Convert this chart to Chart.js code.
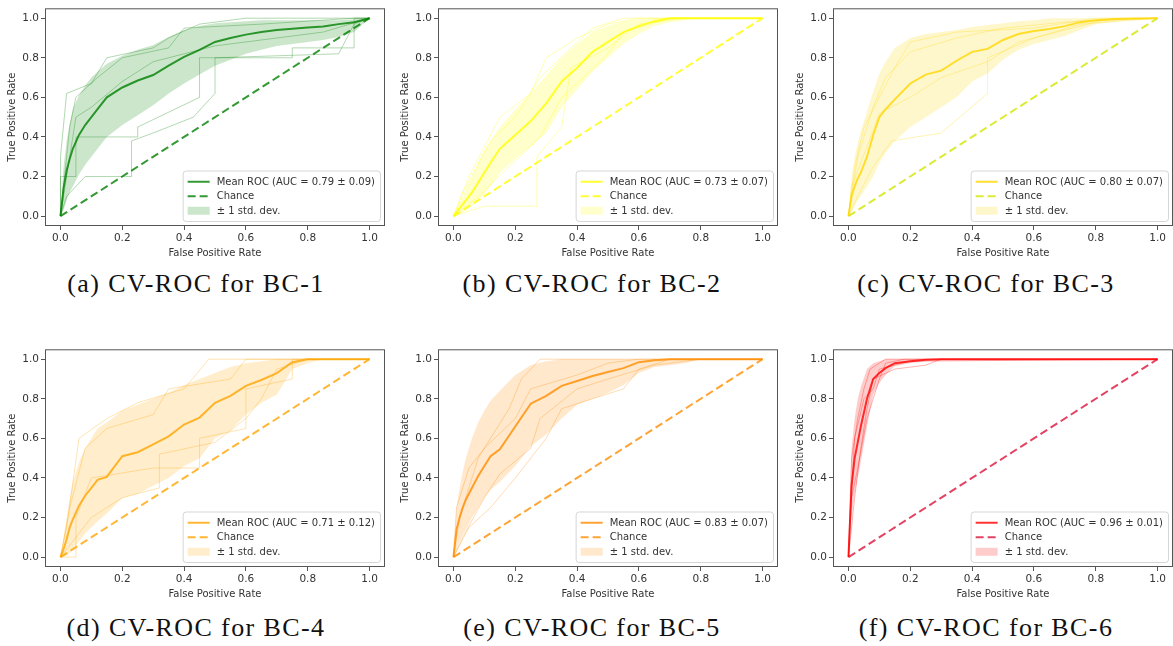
<!DOCTYPE html>
<html>
<head>
<meta charset="utf-8">
<script src="https://cdn.jsdelivr.net/npm/chart.js@4.4.1/dist/chart.umd.min.js"></script>
<style>
  body { margin: 0; width: 1173px; height: 646px; overflow: hidden; background: #fff; position: relative; }
  canvas { position: absolute; }
  .cap { position: absolute; width: 390px; text-align: center; font-family: "Liberation Serif", serif;
         font-size: 26px; line-height: 26px; letter-spacing: 1.4px; color: #111; white-space: nowrap; }
</style>
</head>
<body>
<script>
// shared axis values
const tickValues = [0, 0.2, 0.4, 0.6, 0.8, 1.0];
const tickLabels = ["0.0", "0.2", "0.4", "0.6", "0.8", "1.0"];
const fpr = [0, 0.01, 0.02, 0.03, 0.04, 0.06, 0.08, 0.1, 0.12, 0.15, 0.2, 0.25, 0.3, 0.35, 0.4, 0.45, 0.5, 0.55, 0.6, 0.65, 0.7, 0.75, 0.8, 0.85, 0.9, 0.95, 1.0];

const captions = ["(a) CV-ROC for BC-1", "(b) CV-ROC for BC-2", "(c) CV-ROC for BC-3",
                  "(d) CV-ROC for BC-4", "(e) CV-ROC for BC-5", "(f) CV-ROC for BC-6"];
const aucMean = [0.79, 0.73, 0.80, 0.71, 0.83, 0.96];
const aucStd  = [0.09, 0.07, 0.07, 0.12, 0.07, 0.01];

// mean TPR and +/- 1 std bounds at the fpr grid
const meanA  = [0, .14, .23, .29, .34, .41, .46, .50, .54, .60, .65, .685, .713, .76, .805, .84, .88, .90, .917, .93, .94, .947, .953, .958, .97, .98, 1];
const upperA = [0, .25, .38, .47, .54, .61, .66, .70, .73, .77, .81, .84, .865, .905, .94, .96, .975, .98, .985, .99, .99, .99, .99, .99, .99, .995, 1];
const lowerA = [0, .03, .08, .12, .15, .21, .26, .30, .34, .40, .46, .51, .56, .62, .67, .715, .76, .79, .82, .84, .86, .87, .88, .89, .905, .93, 1];

const meanB  = [0, .02, .04, .06, .08, .12, .17, .22, .27, .34, .41, .48, .57, .68, .75, .83, .88, .93, .96, .985, 1, 1, 1, 1, 1, 1, 1];
const upperB = [0, .04, .07, .10, .14, .20, .27, .33, .38, .45, .54, .62, .71, .80, .87, .93, .96, .985, .995, 1, 1, 1, 1, 1, 1, 1, 1];
const lowerB = [0, 0, .01, .02, .03, .05, .08, .11, .15, .22, .29, .35, .42, .55, .64, .73, .80, .87, .92, .96, .98, .99, 1, 1, 1, 1, 1];

const meanC  = [0, .10, .15, .19, .22, .30, .41, .50, .54, .59, .67, .715, .735, .785, .83, .845, .89, .92, .935, .945, .96, .98, .99, .995, .997, .998, 1];
const upperC = [0, .20, .30, .37, .43, .53, .63, .72, .78, .85, .90, .92, .93, .94, .955, .965, .975, .985, .99, 1, 1, 1, 1, 1, 1, 1, 1];
const lowerC = [0, .02, .05, .08, .10, .15, .20, .27, .32, .38, .45, .50, .55, .60, .68, .72, .79, .84, .87, .89, .91, .94, .97, .98, .99, .995, 1];

const meanD  = [0, .04, .09, .15, .19, .26, .31, .35, .39, .405, .51, .53, .57, .61, .67, .705, .78, .815, .865, .895, .93, .985, 1, 1, 1, 1, 1];
const upperD = [0, .10, .20, .30, .38, .48, .55, .60, .65, .68, .74, .77, .80, .83, .87, .90, .93, .96, .98, .99, 1, 1, 1, 1, 1, 1, 1];
const lowerD = [0, 0, .01, .02, .04, .08, .12, .15, .18, .22, .30, .32, .36, .40, .46, .50, .60, .64, .72, .78, .82, .95, .98, 1, 1, 1, 1];

const meanE  = [0, .14, .20, .25, .29, .35, .41, .46, .51, .545, .66, .775, .815, .865, .89, .915, .935, .955, .985, .995, 1, 1, 1, 1, 1, 1, 1];
const upperE = [0, .25, .35, .43, .50, .60, .68, .74, .79, .84, .92, .97, .99, 1, 1, 1, 1, 1, 1, 1, 1, 1, 1, 1, 1, 1, 1];
const lowerE = [0, .04, .08, .11, .14, .20, .25, .30, .34, .38, .46, .56, .62, .70, .77, .80, .83, .87, .93, .96, .97, .98, 1, 1, 1, 1, 1];

const meanF  = [0, .36, .50, .58, .66, .80, .90, .93, .955, .98, .99, .997, 1, 1, 1, 1, 1, 1, 1, 1, 1, 1, 1, 1, 1, 1, 1];
const upperF = [0, .55, .70, .80, .86, .95, .98, .99, 1, 1, 1, 1, 1, 1, 1, 1, 1, 1, 1, 1, 1, 1, 1, 1, 1, 1, 1];
const lowerF = [0, .20, .32, .40, .48, .66, .82, .88, .92, .965, .98, .99, .995, 1, 1, 1, 1, 1, 1, 1, 1, 1, 1, 1, 1, 1, 1];

// a few of the faint per-fold ROC curves, [fpr, tpr] corners
const foldsA = [
  [[0,0],[0,.2],[.05,.2],[.05,.4],[.25,.4],[.25,.45],[.45,.6],[.45,.8],[.75,.8],[.75,.85],[.95,.85],[.95,1],[1,1]],
  [[0,0],[.02,.1],[.08,.2],[.23,.2],[.23,.38],[.3,.42],[.43,.5],[.5,.62],[.5,.8],[.9,.82],[.95,.97],[1,1]],
  [[0,0],[0,.3],[.02,.62],[.1,.67],[.15,.8],[.3,.85],[.35,.9],[.45,.97],[.6,1],[1,1]],
  [[0,0],[.03,.45],[.05,.6],[.12,.7],[.2,.8],[.35,.85],[.4,.95],[.65,.97],[.95,1],[1,1]],
  [[0,0],[.05,.5],[.1,.55],[.2,.68],[.3,.78],[.5,.86],[.7,.9],[.85,.93],[1,1]]
];
const foldsB = [
  [[0,0],[.1,.05],[.27,.05],[.27,.3],[.35,.45],[.38,.75],[.5,.85],[.6,.97],[.75,1],[1,1]],
  [[0,0],[.05,.2],[.1,.35],[.15,.5],[.25,.62],[.3,.8],[.4,.9],[.5,.97],[.6,1],[1,1]],
  [[0,0],[.08,.1],[.18,.25],[.28,.4],[.35,.6],[.42,.7],[.5,.82],[.55,.93],[.7,1],[1,1]],
  [[0,0],[.03,.12],[.12,.38],[.2,.5],[.28,.7],[.38,.85],[.45,.95],[.55,1],[1,1]]
];
const foldsC = [
  [[0,0],[.02,.25],[.05,.45],[.1,.6],[.15,.75],[.2,.88],[.35,.93],[.6,.95],[.8,1],[1,1]],
  [[0,0],[.03,.1],[.08,.25],[.14,.38],[.3,.42],[.45,.62],[.45,.8],[.6,.9],[.75,.97],[1,1]],
  [[0,0],[.01,.15],[.06,.35],[.1,.52],[.2,.6],[.3,.7],[.45,.78],[.55,.88],[.85,1],[1,1]],
  [[0,0],[.03,.3],[.08,.55],[.12,.7],[.2,.83],[.35,.9],[.5,.95],[.7,.98],[1,1]]
];
const foldsD = [
  [[0,0],[.05,0],[.05,.2],[.1,.4],[.3,.45],[.45,.45],[.45,.6],[.6,.65],[.6,.85],[.75,.9],[.75,1],[1,1]],
  [[0,0],[.03,.25],[.08,.55],[.15,.65],[.3,.72],[.35,.85],[.55,.9],[.6,1],[1,1]],
  [[0,0],[.1,.2],[.2,.3],[.32,.35],[.32,.52],[.5,.58],[.6,.7],[.65,.8],[.7,.95],[.8,1],[1,1]],
  [[0,0],[.02,.15],[.06,.6],[.15,.7],[.25,.78],[.4,.85],[.48,1],[1,1]]
];
const foldsE = [
  [[0,0],[.02,.2],[.08,.5],[.12,.6],[.18,.75],[.22,.9],[.28,1],[1,1]],
  [[0,0],[.05,.15],[.12,.25],[.2,.4],[.3,.6],[.35,.75],[.45,.8],[.55,.85],[.6,.95],[.7,1],[1,1]],
  [[0,0],[.01,.25],[.05,.45],[.1,.55],[.2,.7],[.25,.85],[.4,.92],[.5,.98],[.6,1],[1,1]],
  [[0,0],[.03,.1],[.1,.3],[.15,.42],[.25,.55],[.28,.7],[.4,.85],[.5,.9],[.65,.97],[.8,1],[1,1]]
];
const foldsF = [
  [[0,0],[.01,.5],[.03,.7],[.05,.85],[.07,.95],[.12,1],[1,1]],
  [[0,0],[.02,.3],[.04,.55],[.06,.75],[.08,.9],[.15,.95],[.25,.97],[.3,1],[1,1]],
  [[0,0],[.005,.2],[.02,.6],[.05,.8],[.08,.85],[.1,.95],[.2,.99],[1,1]],
  [[0,0],[.01,.3],[.03,.45],[.06,.7],[.1,.9],[.12,.98],[.18,1],[1,1]]
];

// base rgb per panel, and a separate one for the chance line
const rgbMain   = ["0,128,0", "255,255,0", "255,215,0", "255,165,0", "255,140,0", "255,0,0"];
const rgbChance = ["0,128,0", "255,255,0", "210,230,0", "255,165,0", "255,140,0", "220,20,60"];

const panels = [
  { mean: meanA, upper: upperA, lower: lowerA, folds: foldsA, left: 0,   top: 0 },
  { mean: meanB, upper: upperB, lower: lowerB, folds: foldsB, left: 393, top: 0 },
  { mean: meanC, upper: upperC, lower: lowerC, folds: foldsC, left: 788, top: 0 },
  { mean: meanD, upper: upperD, lower: lowerD, folds: foldsD, left: 0,   top: 341 },
  { mean: meanE, upper: upperE, lower: lowerE, folds: foldsE, left: 393, top: 341 },
  { mean: meanF, upper: upperF, lower: lowerF, folds: foldsF, left: 788, top: 341 }
];
const captionCenters = [196, 592, 986, 196, 592, 986];
const captionTops = [271, 271, 271, 615, 615, 615];

Chart.defaults.font.family = '"DejaVu Sans", sans-serif';
Chart.defaults.font.size = 10;
Chart.defaults.color = "#333";

// matplotlib-like frame and lower-right legend
const mplFrame = {
  id: "mplFrame",
  afterDraw(chart, args, opts) {
    const { ctx, chartArea: a } = chart;
    ctx.save();
    ctx.strokeStyle = "#555";
    ctx.lineWidth = 1;
    ctx.strokeRect(a.left + 0.5, a.top + 0.5, a.right - a.left - 1, a.bottom - a.top - 1);

    const ds = chart.data.datasets;
    const items = [ds[2], ds[3], ds[1]];
    ctx.font = '10px "DejaVu Sans"';
    const tw = Math.max(...items.map(d => ctx.measureText(d.label).width));
    const rowH = 14.5, handle = 22;
    const w = 5 + handle + 7 + tw + 5, h = rowH * 3 + 7;
    const x = a.right - 5 - w, y = a.bottom - 5 - h;
    ctx.fillStyle = "rgba(255,255,255,0.8)";
    ctx.strokeStyle = "rgba(204,204,204,0.8)";
    ctx.beginPath();
    ctx.roundRect(x + 0.5, y + 0.5, w, h, 3);
    ctx.fill();
    ctx.stroke();
    items.forEach((d, i) => {
      const cy = y + 4 + rowH * i + rowH / 2;
      const hx = x + 5;
      if (i < 2) {
        ctx.strokeStyle = d.borderColor;
        ctx.lineWidth = 2;
        ctx.setLineDash(d.borderDash || []);
        ctx.beginPath();
        ctx.moveTo(hx, cy);
        ctx.lineTo(hx + handle, cy);
        ctx.stroke();
        ctx.setLineDash([]);
      } else {
        ctx.fillStyle = d.backgroundColor;
        ctx.fillRect(hx, cy - 4, handle, 8);
      }
      ctx.fillStyle = "#333";
      ctx.textBaseline = "middle";
      ctx.fillText(d.label, hx + handle + 7, cy + 0.5);
    });
    ctx.restore();
  }
};

panels.forEach((p, k) => {
  const cv = document.createElement("canvas");
  cv.width = 390; cv.height = 266;
  cv.style.left = p.left + "px";
  cv.style.top = p.top + "px";
  document.body.appendChild(cv);

  const cap = document.createElement("div");
  cap.className = "cap";
  cap.textContent = captions[k];
  cap.style.left = (captionCenters[k] - 195) + "px";
  cap.style.top = captionTops[k] + "px";
  document.body.appendChild(cap);

  const pts = ys => fpr.map((x, i) => ({ x, y: ys[i] }));
  const c = rgbMain[k];
  const datasets = [
    { label: "lower", data: pts(p.lower), borderColor: "transparent", borderWidth: 0,
      backgroundColor: `rgba(${c},0.2)`, fill: false },
    { label: "\u00b1 1 std. dev.", data: pts(p.upper), borderColor: "transparent", borderWidth: 0,
      backgroundColor: `rgba(${c},0.2)`, fill: "-1" },
    { label: `Mean ROC (AUC = ${aucMean[k].toFixed(2)} \u00b1 ${aucStd[k].toFixed(2)})`,
      data: pts(p.mean), borderColor: `rgba(${c},0.8)`, borderWidth: 2, fill: false },
    { label: "Chance", data: [{ x: 0, y: 0 }, { x: 1, y: 1 }], borderColor: `rgba(${rgbChance[k]},0.8)`,
      borderWidth: 2, borderDash: [8, 4], fill: false },
    ...p.folds.map(f => ({ label: "fold", data: f.map(([x, y]) => ({ x, y })),
      borderColor: `rgba(${c},0.3)`, borderWidth: 1, fill: false }))
  ];

  const axis = (title) => ({
    type: "linear", min: -0.05, max: 1.05,
    afterBuildTicks: s => { s.ticks = tickValues.map(v => ({ value: v })); },
    ticks: { callback: (v, i) => tickLabels[i], padding: 2, maxRotation: 0, autoSkip: false, color: "#333",
             font: { size: 10.5 } },
    grid: { display: true, drawOnChartArea: false, drawTicks: true, tickLength: 4, color: "#555", tickColor: "#555" },
    border: { display: false },
    title: { display: true, text: title, color: "#333", font: { size: 10 } }
  });
  const xs = axis("False Positive Rate");
  xs.afterFit = s => { s.height = 40; };
  xs.title.padding = { top: 0, bottom: 7 };
  const ys = axis("True Positive Rate");
  ys.afterFit = s => { s.width = 45; };
  ys.title.padding = { top: 6, bottom: 0 };

  new Chart(cv, {
    type: "line",
    data: { datasets },
    options: {
      responsive: false,
      animation: false,
      devicePixelRatio: 1,
      events: [],
      layout: { padding: { left: 0, right: 5, top: 5, bottom: 0 } },
      elements: { point: { radius: 0 }, line: { tension: 0 } },
      plugins: { legend: { display: false }, tooltip: { enabled: false } },
      scales: { x: xs, y: ys }
    },
    plugins: [mplFrame]
  });
});
</script>
</body>
</html>
